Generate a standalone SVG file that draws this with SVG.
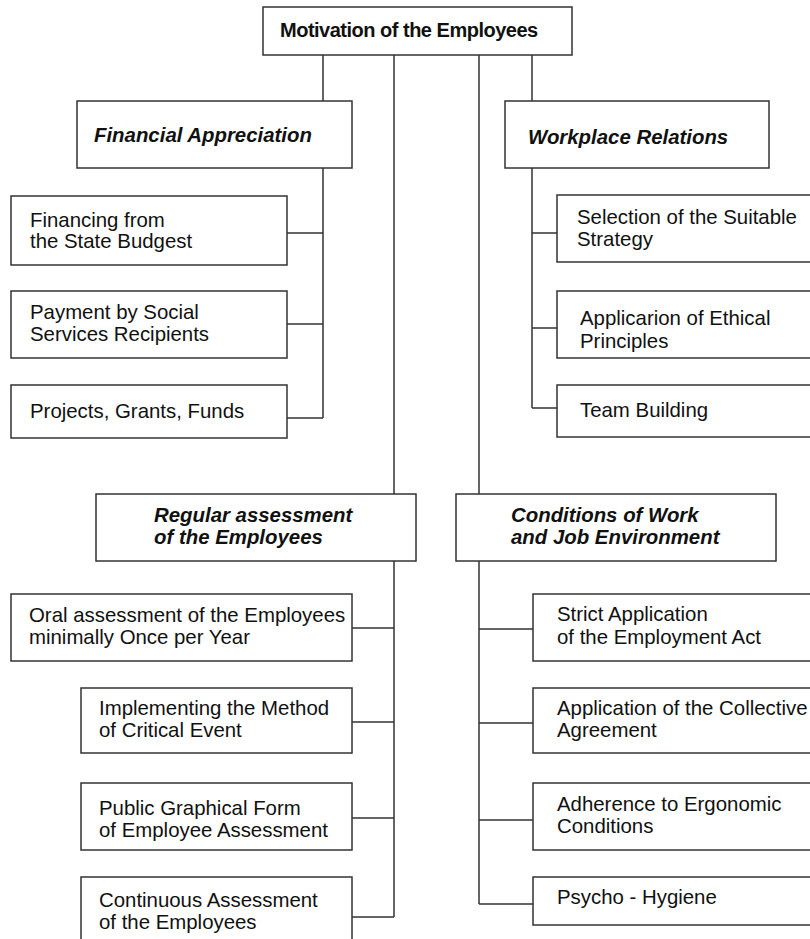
<svg xmlns="http://www.w3.org/2000/svg" width="810" height="939" viewBox="0 0 810 939">
<style>
rect{fill:#fff;stroke:#333;stroke-width:1.5}
text{font-family:"Liberation Sans",Arial,sans-serif;font-size:20.4px;fill:#111}
.h{font-weight:bold;font-style:italic}
.t{font-weight:bold;font-size:20px;letter-spacing:-0.5px}
#connectors path{fill:none;stroke:#333;stroke-width:1.5}
</style>
<rect x="0" y="0" width="810" height="939" style="fill:#fff;stroke:none"/>
<g id="connectors">
<path d="M323,55V101M323,168V418M287,233H323M287,324H323M287,418H323"/>
<path d="M532,55V101M532,168V408M532,233H557M532,328H557M532,408H557"/>
<path d="M394,55V494M394,561V917M352,628H394M352,722H394M352,818H394M352,917H394"/>
<path d="M479,55V494M479,561V904M479,629H533M479,723H533M479,820H533M479,904H533"/>
</g>
<g id="top"><rect x="263" y="7" width="309" height="48"/><text class="t" x="280" y="37">Motivation of the Employees</text></g>
<g id="financial"><rect x="77" y="101" width="275" height="67"/><text class="h" x="94" y="142">Financial Appreciation</text></g>
<g id="workplace"><rect x="505" y="101" width="264" height="67"/><text class="h" x="528" y="144">Workplace Relations</text></g>
<g id="f1"><rect x="11" y="196" width="276" height="69"/><text x="30" y="227">Financing from</text><text x="30" y="248">the State Budgest</text></g>
<g id="f2"><rect x="11" y="291" width="276" height="67"/><text x="30" y="319">Payment by Social</text><text x="30" y="341">Services Recipients</text></g>
<g id="f3"><rect x="11" y="385" width="276" height="53"/><text x="30" y="418">Projects, Grants, Funds</text></g>
<g id="w1"><rect x="557" y="195" width="262" height="67"/><text x="577" y="224">Selection of the Suitable</text><text x="577" y="246">Strategy</text></g>
<g id="w2"><rect x="557" y="291" width="262" height="67"/><text x="580" y="325">Applicarion of Ethical</text><text x="580" y="348">Principles</text></g>
<g id="w3"><rect x="557" y="385" width="262" height="52"/><text x="580" y="417">Team Building</text></g>
<g id="regular"><rect x="96" y="494" width="320" height="67"/><text class="h" x="154" y="522">Regular assessment</text><text class="h" x="154" y="544">of the Employees</text></g>
<g id="conditions"><rect x="456" y="494" width="320" height="67"/><text class="h" x="511" y="522">Conditions of Work</text><text class="h" x="511" y="544">and Job Environment</text></g>
<g id="r1"><rect x="11" y="594" width="341" height="67"/><text x="29" y="622">Oral assessment of the Employees</text><text x="29" y="644">minimally Once per Year</text></g>
<g id="r2"><rect x="81" y="688" width="271" height="65"/><text x="99" y="715">Implementing the Method</text><text x="99" y="737">of Critical Event</text></g>
<g id="r3"><rect x="81" y="783" width="271" height="67"/><text x="99" y="815">Public Graphical Form</text><text x="99" y="837">of Employee Assessment</text></g>
<g id="r4"><rect x="81" y="877" width="271" height="70"/><text x="99" y="907">Continuous Assessment</text><text x="99" y="929">of the Employees</text></g>
<g id="c1"><rect x="533" y="594" width="286" height="67"/><text x="557" y="621">Strict Application</text><text x="557" y="644">of the Employment Act</text></g>
<g id="c2"><rect x="533" y="688" width="286" height="65"/><text x="557" y="715">Application of the Collective</text><text x="557" y="737">Agreement</text></g>
<g id="c3"><rect x="533" y="783" width="286" height="67"/><text x="557" y="811">Adherence to Ergonomic</text><text x="557" y="833">Conditions</text></g>
<g id="c4"><rect x="533" y="877" width="286" height="48"/><text x="557" y="904">Psycho - Hygiene</text></g>
</svg>
